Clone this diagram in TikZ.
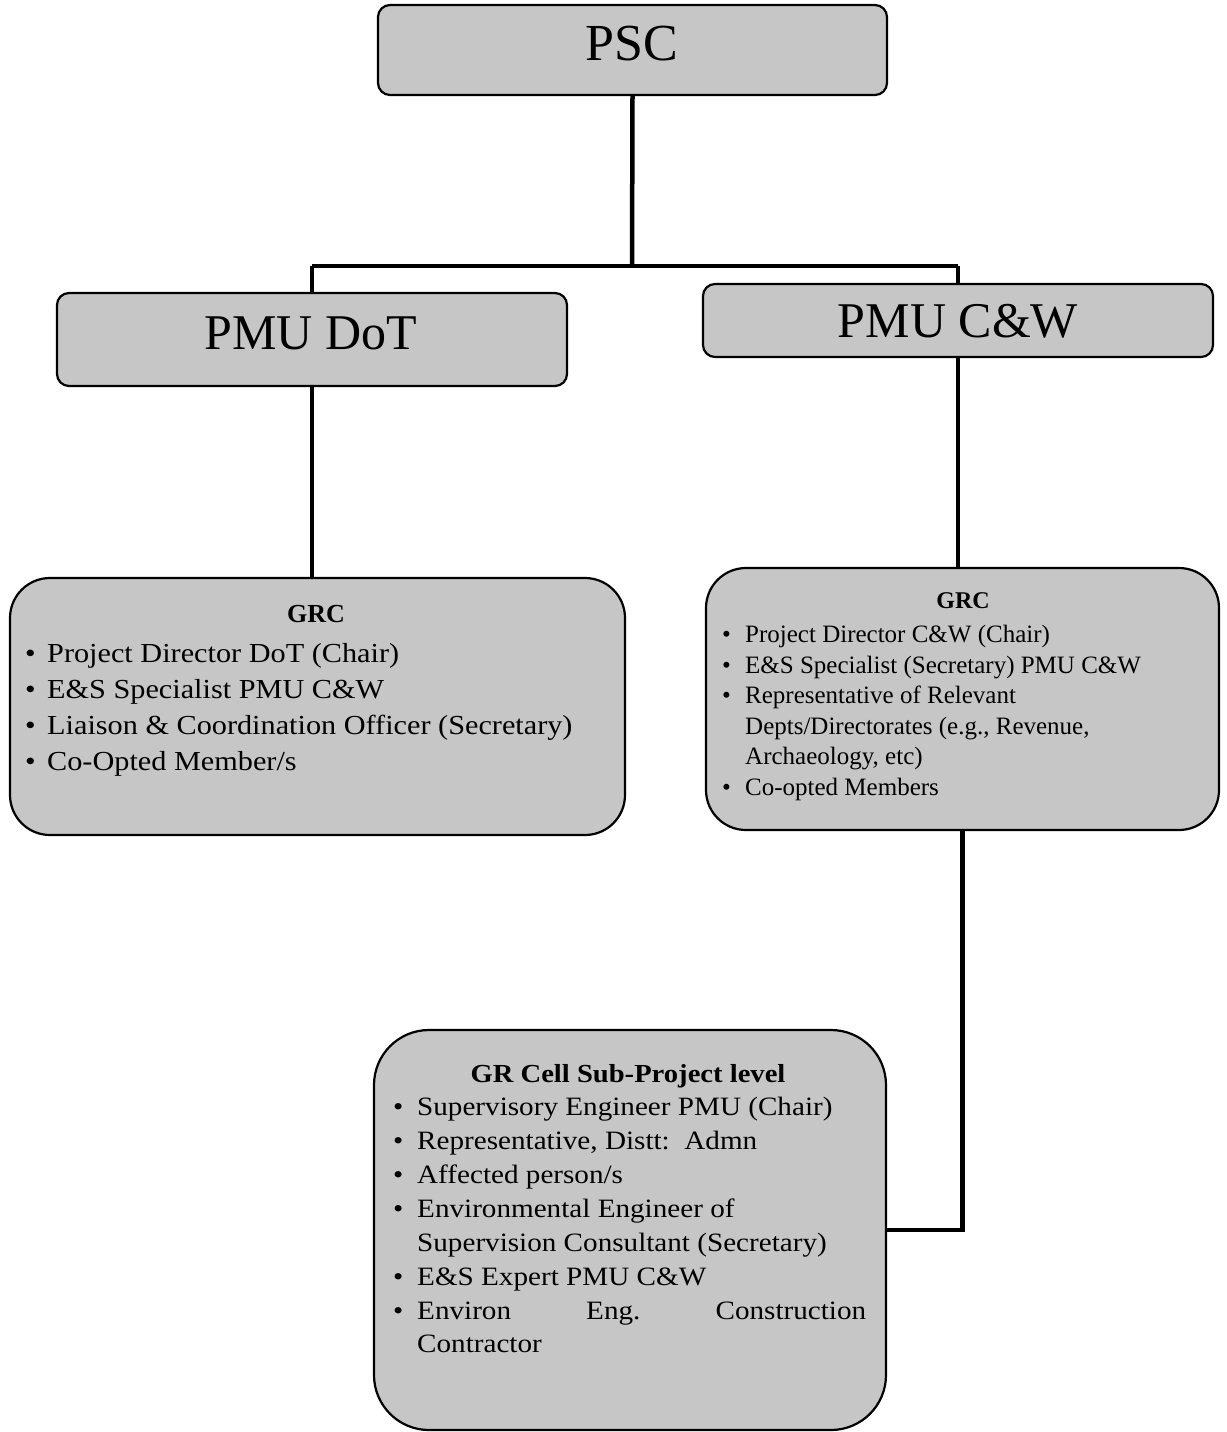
\documentclass[tikz,border=0pt]{standalone}
\usepackage{fontspec}
\setmainfont{Liberation Serif}
\newfontfamily\widefont[FakeStretch=1.1]{Liberation Serif}
\definecolor{boxgray}{RGB}{198,198,198}
\newlength\bw
\newcommand\itm{\makebox[\bw][l]{\textbullet}}
\newcommand\ind{\hspace*{\bw}}
\begin{document}
\begin{tikzpicture}[x=1pt,y=-1pt,
  box/.style={draw=black, line width=2.2pt, fill=boxgray, rounded corners=#1, inner sep=0pt},
  link/.style={draw=black, line width=4.5pt},
  listtxt/.style={anchor=north west, align=left, inner sep=0pt},
  head/.style={anchor=base, inner sep=0pt, font=\bfseries\fontsize{26}{30}\selectfont}]
\useasboundingbox (0,0) rectangle (1226,1432);

% boxes
\node[box=12pt, minimum width=509pt, minimum height=90pt] (psc) at (632.5,50) {};
\node[box=12pt, minimum width=510pt, minimum height=93pt] (pmudot) at (312,339.5) {};
\node[box=12pt, minimum width=510pt, minimum height=73pt] (pmucw) at (958,320.5) {};
\node[box=40pt, minimum width=615pt, minimum height=257pt] (grcL) at (317.5,706.5) {};
\node[box=40pt, minimum width=513pt, minimum height=262pt] (grcR) at (962.5,699) {};
\node[box=55pt, minimum width=512pt, minimum height=400pt] (grcell) at (630,1230) {};

% box titles
\node[font=\fontsize{52}{60}\selectfont, inner sep=0pt] (psct) at (632,44) {PSC};
\node[font=\fontsize{50}{60}\selectfont, inner sep=0pt] (pmudott) at (311,333) {PMU DoT};
\node[font=\fontsize{50}{60}\selectfont, inner sep=0pt] (pmucwt) at (958,321) {PMU C\&W};

% connectors
\coordinate (j) at (632,266);
\draw[link] (psc.south) -- (j);
\draw[link] (pmudot.north |- j) -- (pmucw.north |- j);
\draw[link] (pmudot.north |- j) -- (pmudot.north);
\draw[link] (pmucw.north |- j) -- (pmucw.north);
\draw[link] (pmudot.south) -- (pmudot.south |- grcL.north);
\draw[link] (pmucw.south) -- (pmucw.south |- grcR.north);
\draw[link] (grcR.south) |- (grcell.east);

% left GRC
\node[head] (grcLh) at (316,622) {GRC};
\global\bw=22pt
\node[listtxt, font=\widefont\fontsize{27.5}{36}\selectfont] (grcLt) at (25,643) {%
\itm Project Director DoT (Chair)\\
\itm E\&S Specialist PMU C\&W\\
\itm Liaison \& Coordination Officer (Secretary)\\
\itm Co-Opted Member/s};

% right GRC
\node[head, font=\bfseries\fontsize{24}{30}\selectfont] (grcRh) at (963,608) {GRC};
\global\bw=23pt
\node[listtxt, font=\fontsize{25}{30.5}\selectfont] (grcRt) at (722,625) {%
\itm Project Director C\&W (Chair)\\
\itm E\&S Specialist (Secretary) PMU C\&W\\
\itm Representative of Relevant\\
\ind Depts/Directorates (e.g., Revenue,\\
\ind Archaeology, etc)\\
\itm Co-opted Members};

% GR cell
\node[head, font=\bfseries\widefont\fontsize{26}{30}\selectfont] (cellh) at (628,1082) {GR Cell Sub-Project level};
\global\bw=24pt
\node[listtxt, font=\widefont\fontsize{26.5}{33.9}\selectfont] (cellt) at (393,1097) {%
\itm Supervisory Engineer PMU (Chair)\\
\itm Representative, Distt:\ \ Admn\\
\itm Affected person/s\\
\itm Environmental Engineer of\\
\ind Supervision Consultant (Secretary)\\
\itm E\&S Expert PMU C\&W\\
\itm \makebox[449pt][s]{Environ\hfill Eng.\hfill Construction}\\
\ind Contractor};
\end{tikzpicture}
\end{document}
